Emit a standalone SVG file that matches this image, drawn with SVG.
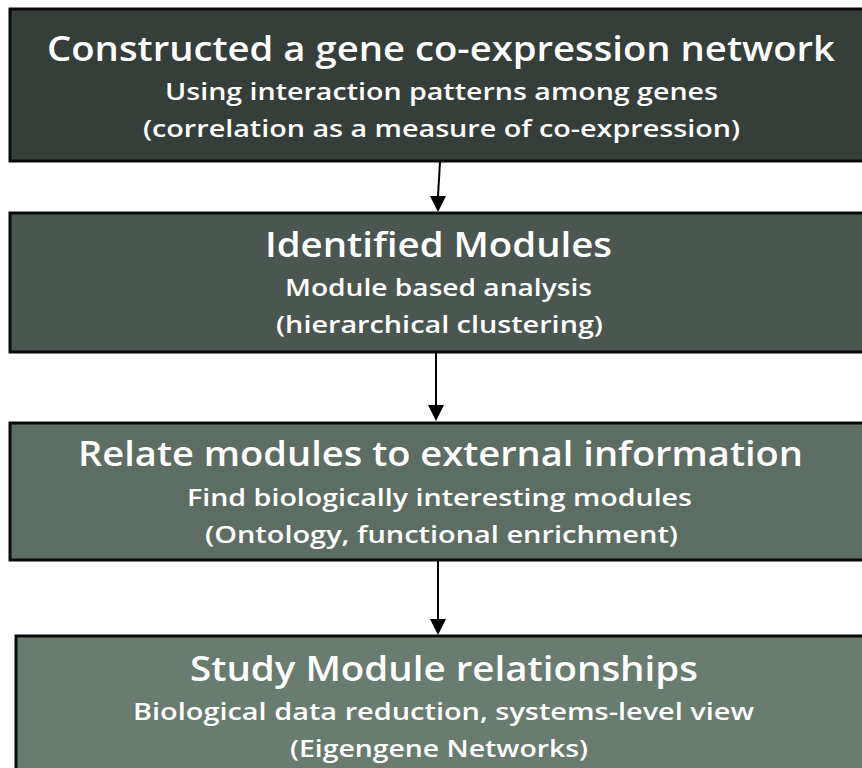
<svg xmlns="http://www.w3.org/2000/svg" width="862" height="768" viewBox="0 0 862 768">
<defs>
<style>
.box{stroke:#0a0a0a;stroke-width:3}
.t{font-family:"Open Sans","Liberation Sans",sans-serif;font-weight:600;fill:#ffffff;text-anchor:middle}
.h{font-size:35px}
.s{font-size:24px}
.c{stroke:#000;stroke-width:2;fill:none}
.ah{fill:#000}
</style>
</defs>
<rect width="862" height="768" fill="#fff"/>
<g id="node1">
<rect class="box" x="10" y="9" width="860" height="152" fill="#353e39"/>
<text class="t h" x="441" y="61" textLength="788" lengthAdjust="spacingAndGlyphs">Constructed a gene co-expression network</text>
<text class="t s" x="441.5" y="100" textLength="553" lengthAdjust="spacingAndGlyphs">Using interaction patterns among genes</text>
<text class="t s" x="441.5" y="137" textLength="597" lengthAdjust="spacingAndGlyphs">(correlation as a measure of co-expression)</text>
</g>
<g id="node2">
<rect class="box" x="10" y="213" width="860" height="139" fill="#4a564f"/>
<text class="t h" x="438.5" y="257" textLength="347" lengthAdjust="spacingAndGlyphs">Identified Modules</text>
<text class="t s" x="438.5" y="296" textLength="307" lengthAdjust="spacingAndGlyphs">Module based analysis</text>
<text class="t s" x="439.5" y="333" textLength="327" lengthAdjust="spacingAndGlyphs">(hierarchical clustering)</text>
</g>
<g id="node3">
<rect class="box" x="10" y="423" width="860" height="137" fill="#5d6d63"/>
<text class="t h" x="440.5" y="466" textLength="725" lengthAdjust="spacingAndGlyphs">Relate modules to external information</text>
<text class="t s" x="439.5" y="506" textLength="505" lengthAdjust="spacingAndGlyphs">Find biologically interesting modules</text>
<text class="t s" x="441.5" y="543" textLength="473" lengthAdjust="spacingAndGlyphs">(Ontology, functional enrichment)</text>
</g>
<g id="node4">
<rect class="box" x="16" y="636" width="860" height="140" fill="#6a7b6f"/>
<text class="t h" x="444" y="681" textLength="508" lengthAdjust="spacingAndGlyphs">Study Module relationships</text>
<text class="t s" x="443.5" y="720" textLength="621" lengthAdjust="spacingAndGlyphs">Biological data reduction, systems-level view</text>
<text class="t s" x="439" y="757" textLength="298" lengthAdjust="spacingAndGlyphs">(Eigengene Networks)</text>
</g>
<g id="connectors">
<line class="c" x1="440" y1="162" x2="438" y2="196"/>
<path class="ah" d="M430,196 L446,196 L438,212 Z"/>
<line class="c" x1="436" y1="353" x2="436" y2="405"/>
<path class="ah" d="M428,405 L444,405 L436,421 Z"/>
<line class="c" x1="438" y1="561" x2="438" y2="619"/>
<path class="ah" d="M430,619 L446,619 L438,635 Z"/>
</g>
</svg>
